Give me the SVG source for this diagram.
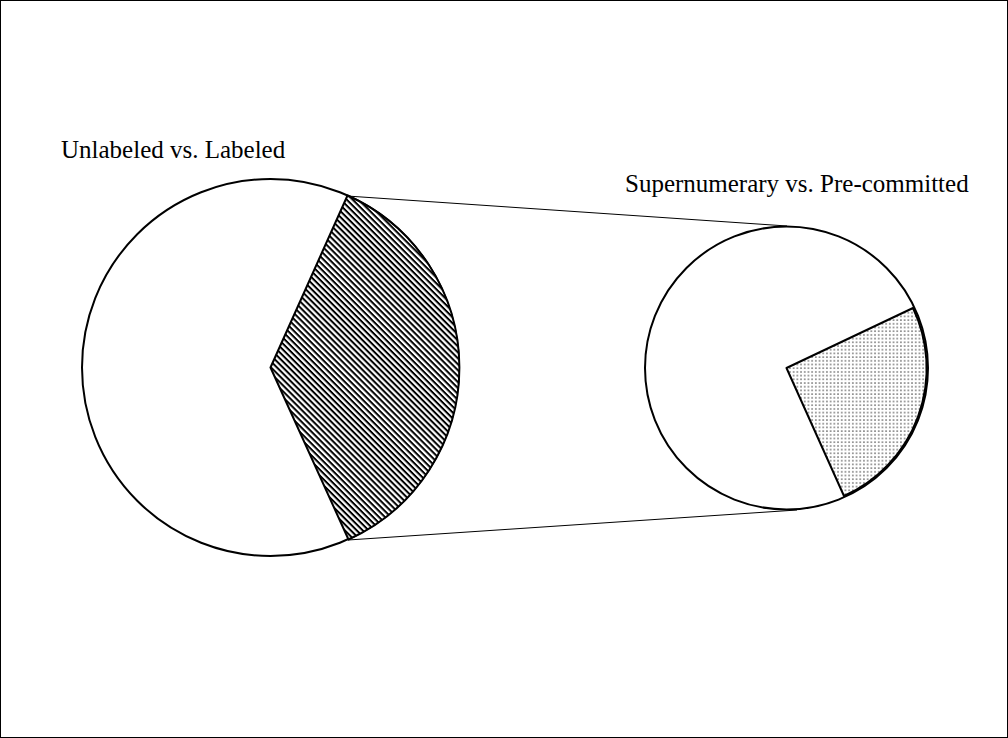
<svg xmlns="http://www.w3.org/2000/svg" width="1008" height="738" viewBox="0 0 1008 738">
<style>
.t{font-family:"Liberation Serif","Times New Roman",serif;font-size:25px;fill:#000}
.c{stroke:#000;stroke-width:1;fill:none}
</style>
<defs>
<pattern id="hatch" width="4.2" height="4.2" patternUnits="userSpaceOnUse" patternTransform="rotate(45)">
<rect width="4.2" height="4.2" fill="#fff"/>
<rect y="0" width="4.2" height="2" fill="#000"/>
</pattern>
<pattern id="dots" width="3.7" height="3.7" patternUnits="userSpaceOnUse">
<rect width="3.7" height="3.7" fill="#fff"/>
<circle cx="1.85" cy="1.85" r="0.8" fill="#444"/>
</pattern>
</defs>
<rect x="0.5" y="0.5" width="1007" height="737" fill="#fff" stroke="#000" stroke-width="1"/>
<g id="connectors">
<line class="c" x1="347" y1="196" x2="787" y2="226"/>
<line class="c" x1="348" y1="540" x2="797" y2="510"/>
</g>
<g id="left-pie">
<circle cx="270.5" cy="367.5" r="188.5" fill="#fff" stroke="#000" stroke-width="2"/>
<path d="M270.5,367.5 L347.5,195.5 A188.5,188.5 0 0 1 348.5,539.5 Z" fill="url(#hatch)" stroke="#000" stroke-width="2" stroke-linejoin="round"/>
</g>
<g id="right-pie">
<circle cx="786.5" cy="368" r="141.5" fill="#fff" stroke="#000" stroke-width="2"/>
<path d="M786.5,368 L913,308 A140,140 0 0 1 844,496 Z" fill="url(#dots)" stroke="#000" stroke-width="2" stroke-linejoin="round"/>
</g>
<g id="labels">
<text class="t" x="61" y="158">Unlabeled vs. Labeled</text>
<text class="t" x="625" y="192">Supernumerary vs. Pre-committed</text>
</g>
</svg>
